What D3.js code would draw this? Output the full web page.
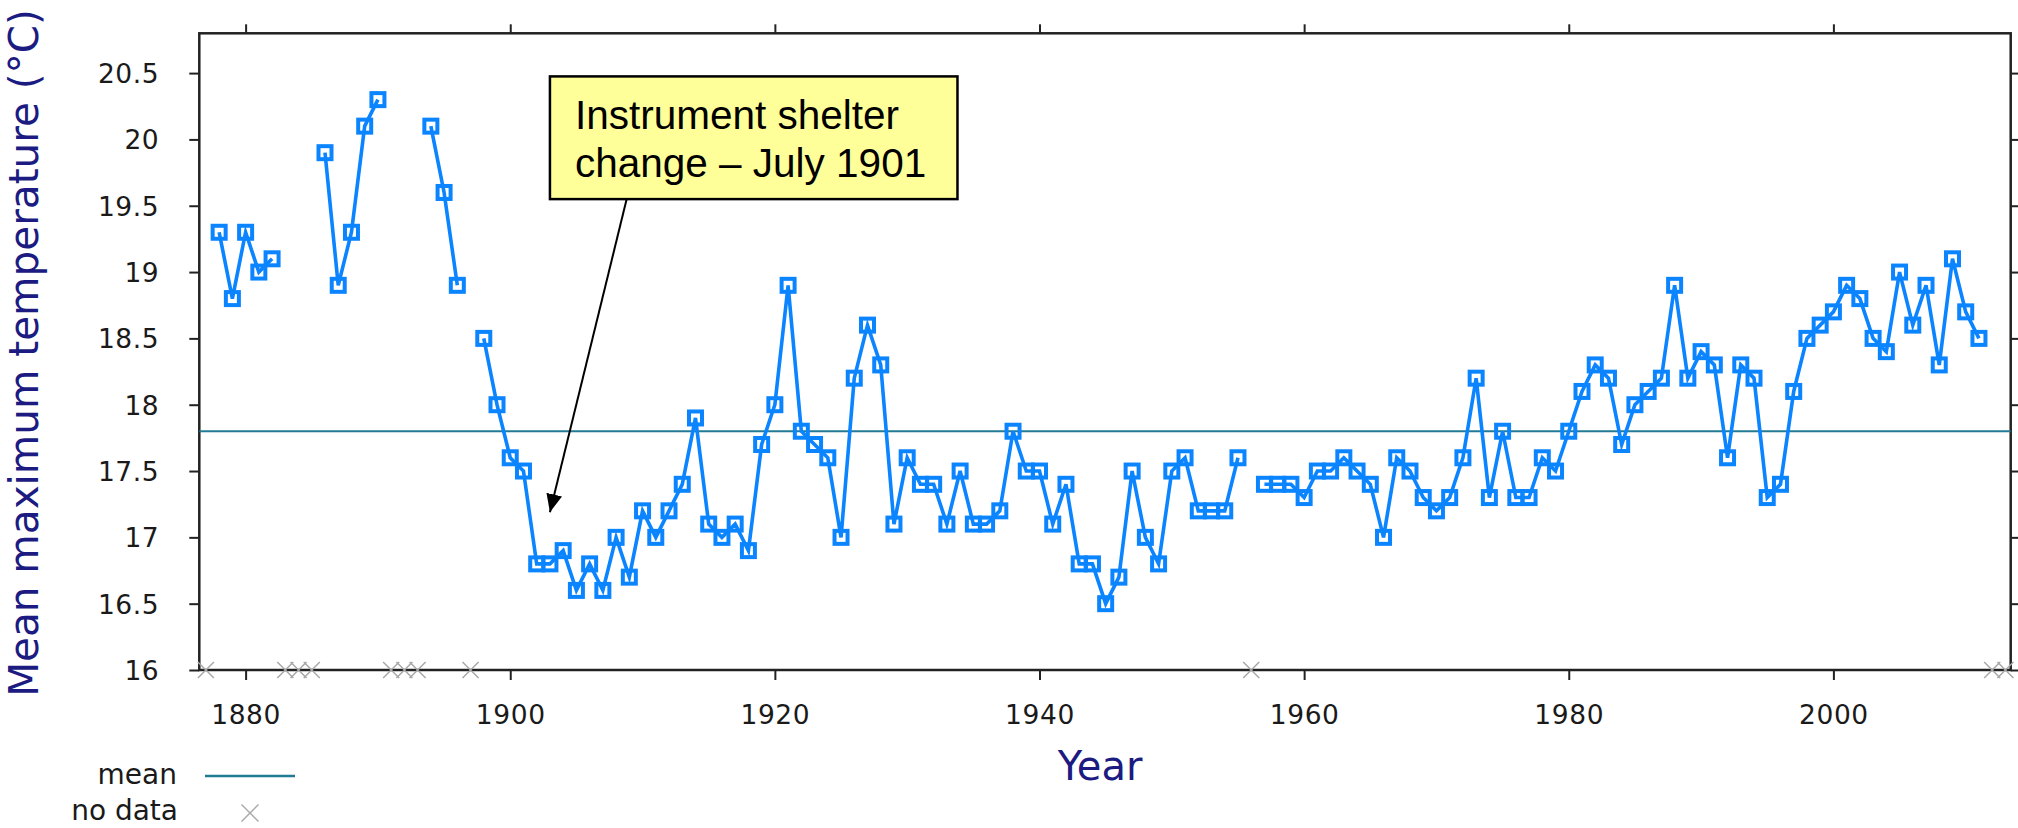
<!DOCTYPE html>
<html>
<head>
<meta charset="utf-8">
<script src="https://cdn.jsdelivr.net/npm/d3@7"></script>
<style>
  html, body { margin: 0; padding: 0; background: #fff; }
  svg { display: block; }
</style>
</head>
<body>
<div id="chart"></div>
<script>
// Annual mean maximum temperature, one value per year (null = no data)
const firstYear = 1877;
const tmax = [
  null, 19.3, 18.8,                                             // 1877-1879
  19.3, 19.0, 19.1, null, null, null, 19.9, 18.9, 19.3, 20.1,   // 1880s
  20.3, null, null, null, 20.1, 19.6, 18.9, null, 18.5, 18.0,   // 1890s
  17.6, 17.5, 16.8, 16.8, 16.9, 16.6, 16.8, 16.6, 17.0, 16.7,   // 1900s
  17.2, 17.0, 17.2, 17.4, 17.9, 17.1, 17.0, 17.1, 16.9, 17.7,   // 1910s
  18.0, 18.9, 17.8, 17.7, 17.6, 17.0, 18.2, 18.6, 18.3, 17.1,   // 1920s
  17.6, 17.4, 17.4, 17.1, 17.5, 17.1, 17.1, 17.2, 17.8, 17.5,   // 1930s
  17.5, 17.1, 17.4, 16.8, 16.8, 16.5, 16.7, 17.5, 17.0, 16.8,   // 1940s
  17.5, 17.6, 17.2, 17.2, 17.2, 17.6, null, 17.4, 17.4, 17.4,   // 1950s
  17.3, 17.5, 17.5, 17.6, 17.5, 17.4, 17.0, 17.6, 17.5, 17.3,   // 1960s
  17.2, 17.3, 17.6, 18.2, 17.3, 17.8, 17.3, 17.3, 17.6, 17.5,   // 1970s
  17.8, 18.1, 18.3, 18.2, 17.7, 18.0, 18.1, 18.2, 18.9, 18.2,   // 1980s
  18.4, 18.3, 17.6, 18.3, 18.2, 17.3, 17.4, 18.1, 18.5, 18.6,   // 1990s
  18.7, 18.9, 18.8, 18.5, 18.4, 19.0, 18.6, 18.9, 18.3, 19.1,   // 2000s
  18.7, 18.5, null, null                                        // 2010-2013
];
const meanValue = 17.8;

const xTicks = [1880, 1900, 1920, 1940, 1960, 1980, 2000];
const yTicks = [16, 16.5, 17, 17.5, 18, 18.5, 19, 19.5, 20, 20.5];
const yTickLabels = ['16', '16.5', '17', '17.5', '18', '18.5', '19', '19.5', '20', '20.5'];

const annotationLines = ['Instrument shelter', 'change \u2013 July 1901'];

const data = tmax.map(function(v, i) {
  return { year: firstYear + i, value: v };
});

const width = 2018;
const height = 828;
const margin = { top: 33.3, right: 7.3, bottom: 158, left: 199.3 };

const svg = d3.select('#chart')
  .append('svg')
  .attr('width', width)
  .attr('height', height);

const x = d3.scaleLinear()
  .domain([1876.5, 2013.4])
  .range([margin.left, width - margin.right]);

const y = d3.scaleLinear()
  .domain([16, 20.8])
  .range([height - margin.bottom, margin.top]);

const tickFont = 'DejaVu Sans, Verdana, sans-serif';
const navy = '#1b1b82';
const blue = '#0b84ff';
const teal = '#237a94';

// axes
const bottomAxis = svg.append('g')
  .attr('transform', 'translate(0,' + y.range()[0] + ')')
  .call(d3.axisBottom(x).tickValues(xTicks).tickFormat(d3.format('d')).tickSize(10).tickSizeOuter(0).tickPadding(25));
const topAxis = svg.append('g')
  .attr('transform', 'translate(0,' + y.range()[1] + ')')
  .call(d3.axisTop(x).tickValues(xTicks).tickFormat('').tickSize(9).tickSizeOuter(0));
const leftAxis = svg.append('g')
  .attr('transform', 'translate(' + x.range()[0] + ',0)')
  .call(d3.axisLeft(y).tickValues(yTicks).tickFormat(function(d, i) { return yTickLabels[i]; }).tickSize(10).tickSizeOuter(0).tickPadding(30));
const rightAxis = svg.append('g')
  .attr('transform', 'translate(' + x.range()[1] + ',0)')
  .call(d3.axisRight(y).tickValues(yTicks).tickFormat('').tickSize(10).tickSizeOuter(0));

[bottomAxis, topAxis, leftAxis, rightAxis].forEach(function(g) {
  g.select('.domain').remove();
  g.selectAll('.tick line').attr('stroke', '#222').attr('stroke-width', 2);
  g.selectAll('.tick text')
    .attr('fill', '#1a1a1a')
    .style('font-family', tickFont)
    .style('font-size', '26.5px')
    .style('letter-spacing', '0.6px');
});
leftAxis.selectAll('.tick text').attr('dy', '0.36em');

// frame
svg.append('rect')
  .attr('x', x.range()[0])
  .attr('y', y.range()[1])
  .attr('width', x.range()[1] - x.range()[0])
  .attr('height', y.range()[0] - y.range()[1])
  .attr('fill', 'none')
  .attr('stroke', '#222')
  .attr('stroke-width', 2.5);

// mean line
svg.append('line')
  .attr('x1', x.range()[0])
  .attr('x2', x.range()[1])
  .attr('y1', y(meanValue))
  .attr('y2', y(meanValue))
  .attr('stroke', teal)
  .attr('stroke-width', 2.2);

// no-data crosses on the baseline
const cross = d3.symbol().type(d3.symbolX).size(170);
svg.append('g')
  .selectAll('path')
  .data(data.filter(function(d) { return d.value === null; }))
  .enter()
  .append('path')
  .attr('d', cross)
  .attr('transform', function(d) { return 'translate(' + x(d.year) + ',' + y(16) + ')'; })
  .attr('fill', 'none')
  .attr('stroke', '#a8a8a8')
  .attr('stroke-width', 1.5);

// temperature series
const line = d3.line()
  .defined(function(d) { return d.value !== null; })
  .x(function(d) { return x(d.year); })
  .y(function(d) { return y(d.value); });

svg.append('path')
  .datum(data)
  .attr('d', line)
  .attr('fill', 'none')
  .attr('stroke', blue)
  .attr('stroke-width', 3.6)
  .attr('stroke-linejoin', 'miter');

const sq = 13;
svg.append('g')
  .selectAll('rect')
  .data(data.filter(function(d) { return d.value !== null; }))
  .enter()
  .append('rect')
  .attr('x', function(d) { return x(d.year) - sq / 2; })
  .attr('y', function(d) { return y(d.value) - sq / 2; })
  .attr('width', sq)
  .attr('height', sq)
  .attr('fill', 'none')
  .attr('stroke', blue)
  .attr('stroke-width', 4);

// axis titles
svg.append('text')
  .attr('x', 1100)
  .attr('y', 780)
  .attr('text-anchor', 'middle')
  .attr('fill', navy)
  .style('font-family', tickFont)
  .style('font-size', '40px')
  .text('Year');

svg.append('text')
  .attr('transform', 'translate(38,353) rotate(-90)')
  .attr('text-anchor', 'middle')
  .attr('fill', navy)
  .style('font-family', tickFont)
  .style('font-size', '40.5px')
  .text('Mean maximum temperature (\u00B0C)');

// legend
const legend = svg.append('g').style('font-family', tickFont).style('font-size', '28px');
legend.append('text')
  .attr('x', 177).attr('y', 784)
  .attr('text-anchor', 'end')
  .attr('fill', '#1a1a1a')
  .text('mean');
legend.append('line')
  .attr('x1', 205).attr('x2', 295)
  .attr('y1', 776).attr('y2', 776)
  .attr('stroke', teal)
  .attr('stroke-width', 2.5);
legend.append('text')
  .attr('x', 178).attr('y', 820)
  .attr('text-anchor', 'end')
  .attr('fill', '#1a1a1a')
  .text('no data');
legend.append('path')
  .attr('d', d3.symbol().type(d3.symbolX).size(190))
  .attr('transform', 'translate(250,813)')
  .attr('fill', 'none')
  .attr('stroke', '#a8a8a8')
  .attr('stroke-width', 1.4);

// annotation
svg.append('defs')
  .append('marker')
  .attr('id', 'arrowhead')
  .attr('viewBox', '0 0 18 16')
  .attr('refX', 18)
  .attr('refY', 8)
  .attr('markerWidth', 18)
  .attr('markerHeight', 16)
  .attr('markerUnits', 'userSpaceOnUse')
  .attr('orient', 'auto')
  .append('path')
  .attr('d', 'M0,0 L18,8 L0,16 Z')
  .attr('fill', '#000');

const boxLeft = x(1903.0), boxRight = x(1933.8);
const boxTop = y(20.475), boxBottom = y(19.55);

svg.append('line')
  .attr('x1', x(1908.8))
  .attr('y1', boxBottom)
  .attr('x2', x(1903.0))
  .attr('y2', y(17.19))
  .attr('stroke', '#000')
  .attr('stroke-width', 2)
  .attr('marker-end', 'url(#arrowhead)');

svg.append('rect')
  .attr('x', boxLeft)
  .attr('y', boxTop)
  .attr('width', boxRight - boxLeft)
  .attr('height', boxBottom - boxTop)
  .attr('fill', '#ffff99')
  .attr('stroke', '#000')
  .attr('stroke-width', 2.5);

svg.append('g')
  .selectAll('text')
  .data(annotationLines)
  .enter()
  .append('text')
  .attr('x', boxLeft + 25)
  .attr('y', function(d, i) { return boxTop + 53 + i * 48; })
  .attr('fill', '#000')
  .style('font-family', 'Liberation Sans, Arial, sans-serif')
  .style('font-size', '40.5px')
  .text(function(d) { return d; });
</script>
</body>
</html>
